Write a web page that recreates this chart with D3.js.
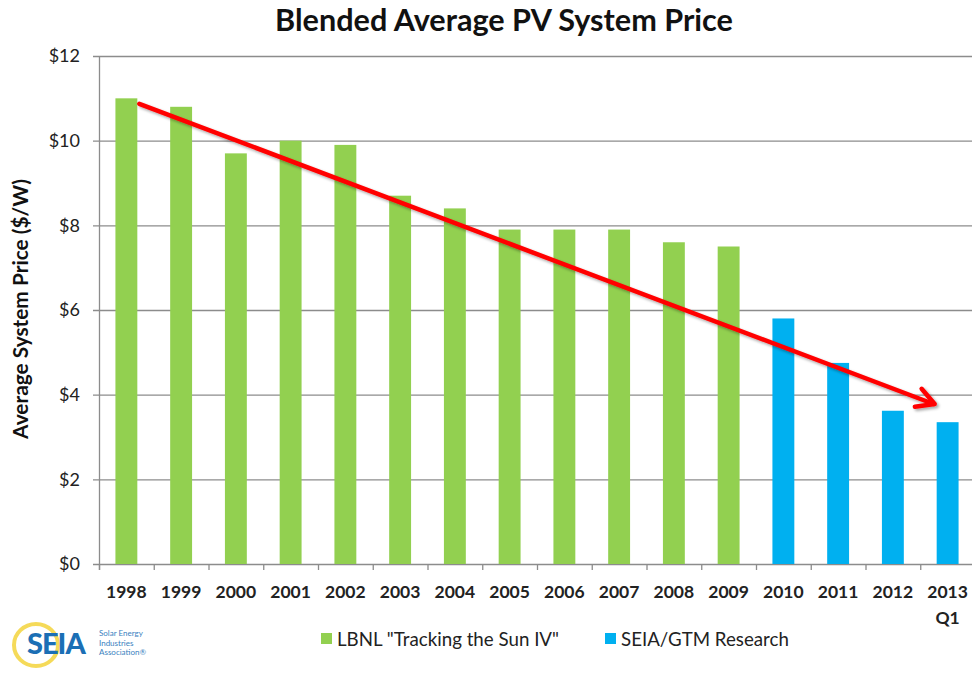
<!DOCTYPE html>
<html><head><meta charset="utf-8">
<script src="https://cdn.jsdelivr.net/npm/d3@7"></script>
<style>
html,body{margin:0;padding:0;background:#fff;}
svg{display:block;font-family:Lato, "Open Sans", sans-serif;}
</style></head>
<body>
<svg id="chart" width="972" height="676"></svg>
<script>
// ---- data ----
const categories = ["1998","1999","2000","2001","2002","2003","2004","2005","2006","2007","2008","2009","2010","2011","2012","2013"];
const values = [11.0,10.8,9.7,10.0,9.9,8.7,8.4,7.9,7.9,7.9,7.6,7.5,5.8,4.75,3.62,3.35];
const sources = ["LBNL","LBNL","LBNL","LBNL","LBNL","LBNL","LBNL","LBNL","LBNL","LBNL","LBNL","LBNL","SEIA","SEIA","SEIA","SEIA"];
const seriesNames = ["LBNL \"Tracking the Sun IV\"","SEIA/GTM Research"];
const seriesKeys = ["LBNL","SEIA"];
const yTicks = [0,2,4,6,8,10,12];
const yTickLabels = ["$0","$2","$4","$6","$8","$10","$12"];
const subLabels = {"2013":"Q1"};
const trendFrom = {cat:"1998", value:10.87};
const trendTo = {cat:"2013", value:3.78};
const titleText = "Blended Average PV System Price";
const yAxisTitle = "Average System Price ($/W)";

// ---- layout ----
const svg = d3.select("#chart");
const W = 972, H = 676;
const plot = {left:99, right:975, top:56, bottom:564};
const colors = {LBNL:"#92D050", SEIA:"#00B0F0"};
const gridColor = "#8c8c8c";

const x = d3.scaleBand().domain(categories).range([plot.left, plot.right]).paddingInner(0.6).paddingOuter(0.3);
const y = d3.scaleLinear().domain([0,12]).range([plot.bottom, plot.top]);

function fitWidth(sel, target){
  const fs = +sel.attr("font-size");
  const w = sel.node().getComputedTextLength();
  sel.attr("font-size", fs*target/w);
}

// gridlines
svg.append("g").selectAll("line").data(yTicks).join("line")
  .attr("x1", plot.left-6).attr("x2", W)
  .attr("y1", d=>y(d)+0.5).attr("y2", d=>y(d)+0.5)
  .attr("stroke", gridColor).attr("stroke-width", 1.3);

// y tick labels
svg.append("g").selectAll("text").data(yTicks).join("text")
  .attr("x", 80).attr("y", d=>y(d)).attr("dy","0.36em")
  .attr("text-anchor","end").attr("font-size",18).attr("fill","#222")
  .text((d,i)=>yTickLabels[i]);

// bars
svg.append("g").selectAll("rect").data(categories).join("rect")
  .attr("x", d=>x(d)).attr("width", x.bandwidth())
  .attr("y", (d,i)=>y(values[i])).attr("height", (d,i)=>y(0)-y(values[i]))
  .attr("fill", (d,i)=>colors[sources[i]]);

// y axis line
svg.append("line").attr("x1",plot.left+0.5).attr("x2",plot.left+0.5)
  .attr("y1",plot.top).attr("y2",plot.bottom+6).attr("stroke",gridColor).attr("stroke-width",1.3);
// x tick marks at band boundaries
const step = x.step();
const x0 = x(categories[0]) - x.paddingOuter()*step;
svg.append("g").selectAll("line").data(d3.range(categories.length+1)).join("line")
  .attr("x1", i=>x0+i*step+0.5).attr("x2", i=>x0+i*step+0.5)
  .attr("y1", plot.bottom).attr("y2", plot.bottom+6)
  .attr("stroke", gridColor).attr("stroke-width",1.3);

// x labels
svg.append("g").selectAll("text").data(categories).join("text")
  .attr("x", d=>x(d)+x.bandwidth()/2).attr("y", 598)
  .attr("text-anchor","middle").attr("font-size",17.5).attr("font-weight","bold").attr("fill","#222")
  .text(d=>d);
svg.append("g").selectAll("text").data(Object.keys(subLabels)).join("text")
  .attr("x", d=>x(d)+x.bandwidth()/2).attr("y", 624)
  .attr("text-anchor","middle").attr("font-size",17.5).attr("font-weight","bold").attr("fill","#222")
  .text(d=>subLabels[d]);

// title
const title = svg.append("text").attr("x", 504).attr("y", 31)
  .attr("text-anchor","middle").attr("font-size",27).attr("font-weight","bold").attr("fill","#111")
  .text(titleText);
fitWidth(title, 458);

// y axis title
const yt = svg.append("text").attr("transform","translate(28,309) rotate(-90)")
  .attr("text-anchor","middle").attr("font-size",19).attr("font-weight","bold").attr("fill","#111")
  .text(yAxisTitle);
fitWidth(yt, 260);

// trend arrow
const defs = svg.append("defs");
const f = defs.append("filter").attr("id","shadow").attr("x","-10%").attr("y","-10%").attr("width","120%").attr("height","120%");
f.append("feGaussianBlur").attr("in","SourceAlpha").attr("stdDeviation",1.5).attr("result","b");
f.append("feOffset").attr("in","b").attr("dx",1.5).attr("dy",2).attr("result","o");
f.append("feComponentTransfer").attr("in","o").attr("result","o2").append("feFuncA").attr("type","linear").attr("slope",0.35);
const fm = f.append("feMerge"); fm.append("feMergeNode").attr("in","o2"); fm.append("feMergeNode").attr("in","SourceGraphic");

const ax1 = x(trendFrom.cat)+x.bandwidth()+2, ay1 = y(trendFrom.value);
const ax2 = x(trendTo.cat)-2, ay2 = y(trendTo.value);
const ang = Math.atan2(ay2-ay1, ax2-ax1);
const hl = 20, ha = 0.5;
const gA = svg.append("g").attr("filter","url(#shadow)").attr("stroke","#FF0000").attr("stroke-width",4.5).attr("stroke-linecap","round").attr("fill","none");
gA.append("line").attr("x1",ax1).attr("y1",ay1).attr("x2",ax2-1).attr("y2",ay2);
gA.append("path").attr("stroke-linejoin","round").attr("d", d3.line()([
  [ax2 - hl*Math.cos(ang-ha), ay2 - hl*Math.sin(ang-ha)],
  [ax2, ay2],
  [ax2 - hl*Math.cos(ang+ha), ay2 - hl*Math.sin(ang+ha)]
]));

// legend
const legendX = [321, 605];
const legendW = [222, 168];
const lg = svg.append("g").selectAll("g").data(seriesKeys).join("g")
  .attr("transform",(d,i)=>`translate(${legendX[i]},633)`);
lg.append("rect").attr("width",11).attr("height",11).attr("fill",d=>colors[d]);
lg.append("text").attr("x",16).attr("y",6).attr("dy","0.36em").attr("font-size",18.5).attr("fill","#222")
  .text((d,i)=>seriesNames[i])
  .each(function(d,i){ fitWidth(d3.select(this), legendW[i]); });

// SEIA logo
const logo = svg.append("g");
logo.append("ellipse").attr("cx",36).attr("cy",645).attr("rx",22).attr("ry",21)
  .attr("fill","none").attr("stroke","#F3D33C").attr("stroke-width",4).attr("opacity",0.85);
logo.append("text").attr("x",27).attr("y",654).attr("font-size",29).attr("font-weight","900")
  .attr("fill","#1B6FB5").attr("letter-spacing",-1).text("SEIA");
const sm = ["Solar Energy","Industries","Association®"];
logo.selectAll("text.sm").data(sm).join("text").attr("class","sm")
  .attr("x",99).attr("y",(d,i)=>636+i*9.5).attr("font-size",8).attr("fill","#3a7fc0").text(d=>d);
</script>
</body></html>
